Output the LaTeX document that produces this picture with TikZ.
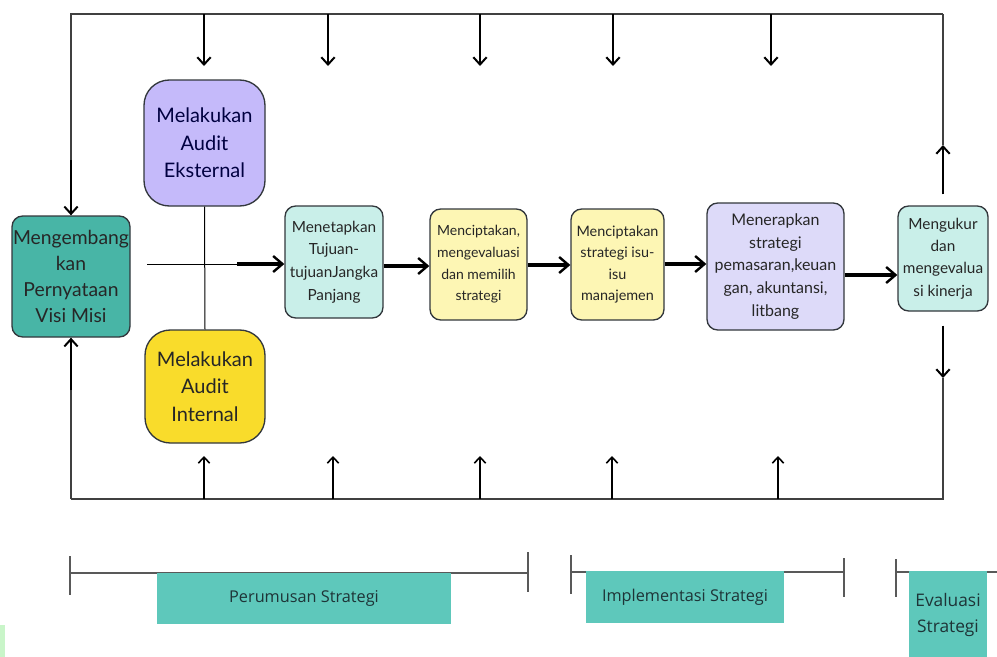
\documentclass[tikz,border=0pt]{standalone}
\usepackage{fontspec}
\setmainfont{Lato}
\newfontfamily\labelfont{Open Sans}
\usetikzlibrary{arrows.meta,calc}

\definecolor{tealdark}{RGB}{72,181,166}
\definecolor{tealband}{RGB}{94,200,187}
\definecolor{cyanlight}{RGB}{201,239,233}
\definecolor{purplemid}{RGB}{197,186,250}
\definecolor{purplelight}{RGB}{221,218,249}
\definecolor{yellowstrong}{RGB}{249,220,43}
\definecolor{yellowlight}{RGB}{253,246,180}
\definecolor{greenlight}{RGB}{201,245,201}
\definecolor{boxline}{RGB}{50,55,60}
\definecolor{bandtext}{RGB}{30,52,55}

\tikzset{every picture/.style={line width=0.75pt}}
\tikzset{
  stagebox/.style={draw=boxline, line width=1pt, rounded corners=8pt, align=center,
    inner sep=0pt, text=black!85},
  auditbox/.style={stagebox, rounded corners=19pt},
  phaseband/.style={fill=tealband, inner sep=0pt, align=center, text=bandtext,
    font=\labelfont\fontsize{12.2}{16}\selectfont},
  flow/.style={line width=2.6pt, -{Straight Barb[length=7pt,width=12pt,line width=1.8pt]}},
  feeddown/.style={line width=1.9pt, -{Straight Barb[length=5.5pt,width=10pt,line width=1.5pt]}},
  feedup/.style={line width=1.4pt, -{Straight Barb[length=4.5pt,width=8.5pt,line width=1.2pt]}},
  loopline/.style={draw=black!75, line width=1.1pt},
  bracket/.style={draw=black!65, line width=1.2pt},
}

\begin{document}
\begin{tikzpicture}[x=0.75pt,y=0.75pt,yscale=-1]
\useasboundingbox (0,0) rectangle (997,657);

% loop corners
\coordinate (tl) at (71,14);
\coordinate (tr) at (943,14);
\coordinate (bl) at (71,499);
\coordinate (br) at (943,499);

% Stage boxes
\node [stagebox, fill=tealdark, minimum width=88.5pt, minimum height=90.75pt,
  font=\fontsize{14.5}{19.5}\selectfont] (mission) at (71,276.5)
  {Mengembang\\kan\\Pernyataan\\Visi Misi};
\node [auditbox, fill=purplemid, minimum width=90.75pt, minimum height=94.5pt,
  font=\fontsize{15}{20.5}\selectfont, text=black!75!blue] (extaudit) at (204.5,143)
  {Melakukan\\Audit\\Eksternal};
\node [auditbox, fill=yellowstrong, minimum width=90pt, minimum height=84.75pt,
  font=\fontsize{15}{20.5}\selectfont] (intaudit) at (205,386.5)
  {Melakukan\\Audit\\Internal};
\node [stagebox, fill=cyanlight, minimum width=73.5pt, minimum height=84pt,
  font=\fontsize{11.5}{17}\selectfont] (goals) at (334,262)
  {Menetapkan\\Tujuan-\\tujuanJangka\\Panjang};
\node [stagebox, fill=yellowlight, minimum width=72.75pt, minimum height=83.25pt,
  font=\fontsize{10.5}{16.2}\selectfont] (choose) at (478.5,264.5)
  {Menciptakan,\\mengevaluasi\\dan memilih\\strategi};
\node [stagebox, fill=yellowlight, minimum width=69.75pt, minimum height=83.25pt,
  font=\fontsize{10.8}{15.8}\selectfont] (issues) at (617.5,264.5)
  {Menciptakan\\strategi isu-\\isu\\manajemen};
\node [stagebox, fill=purplelight, minimum width=102.75pt, minimum height=95.25pt,
  font=\fontsize{12}{17.2}\selectfont] (implement) at (775.5,266.5)
  {Menerapkan\\strategi\\pemasaran,keuan\\gan, akuntansi,\\litbang};
\node [stagebox, fill=cyanlight, minimum width=67.5pt, minimum height=78.75pt,
  font=\fontsize{11.5}{16.8}\selectfont] (measure) at (943,258.5)
  {Mengukur\\dan\\mengevalua\\si kinerja};

% audit link and main flow
\draw (extaudit.south) -- (intaudit.north);
\coordinate (feed) at (147,264);
\coordinate (feedbold) at (237,264);
\draw (feed) -- (feedbold);
\draw [flow] (feedbold) -- (goals.west |- feedbold);
\draw [flow] (goals.east |- 0,266) -- (choose.west |- 0,266);
\draw [flow] (choose.east |- 0,265) -- (issues.west |- 0,265);
\draw [flow] (issues.east |- 0,264) -- (implement.west |- 0,264);
\draw [flow] (implement.east |- 0,275) -- (measure.west |- 0,275);

% feedback loop
\draw [loopline] (tr) -- (tl) -- (71,160);
\draw [feeddown] (71,160) -- (mission.north);
\draw [loopline] (bl) -- (71,390);
\draw [feeddown] (71,390) -- (mission.south);
\draw [loopline] (bl) -- (br) -- (943,378);
\draw [feeddown] ($(measure.south)+(0,14)$) -- (943,378);
\draw [feeddown] ($(measure.north)+(0,-11)$) -- (943,145);
\draw [loopline] (943,145) -- (tr);
\foreach \x in {204,328,480,613,771}
  \draw [feeddown] (\x,14) -- (\x,66);
\foreach \x in {204,333,480,612,778}
  \draw [feedup] (\x,499) -- (\x,456);

% phase brackets
\draw [bracket] (70,573) -- (528,573);
\draw [bracket] (70,556) -- (70,595);
\draw [bracket] (528,552) -- (528,592);
\draw [bracket] (571,572) -- (845,572);
\draw [bracket] (571,555) -- (571,594);
\draw [bracket] (844,558) -- (844,597);
\draw [bracket] (896,572) -- (997,572);
\draw [bracket] (896,559) -- (896,597);

% phase labels
\node [phaseband, minimum width=220.5pt, minimum height=38.25pt] (formulate) at (304,598.5)
  {Perumusan Strategi};
\node [phaseband, minimum width=148.5pt, minimum height=39pt] (execute) at (685,597)
  {Implementasi Strategi};
\node [phaseband, minimum width=58.5pt, minimum height=66pt,
  font=\labelfont\fontsize{13}{20}\selectfont] (evaluate) at (948,615)
  {Evaluasi\\Strategi};

% edge strip
\fill [greenlight] (0,625) rectangle (5,657);

\end{tikzpicture}
\end{document}
